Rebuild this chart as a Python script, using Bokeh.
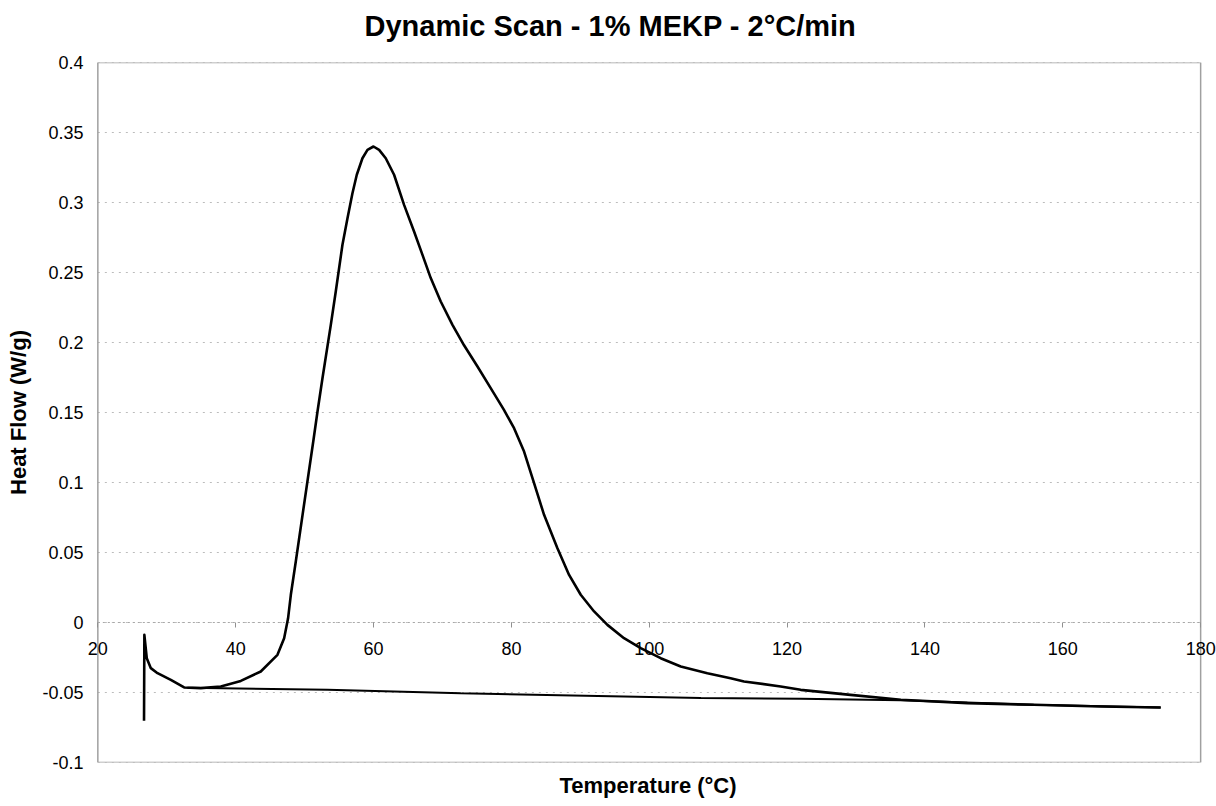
from bokeh.plotting import figure
from bokeh.models import Title, NumeralTickFormatter, FixedTicker, Label, Range1d
from bokeh.embed import file_html
from bokeh.resources import INLINE

# Heat flow curve (DSC dynamic scan)
temperature = [26.70, 26.75, 27.10, 27.69, 28.66, 30.59, 32.52, 34.94, 37.84, 40.74,
               43.64, 46.06, 47.03, 47.60, 48.00, 48.72, 50.00, 51.29, 51.87, 52.59,
               53.80, 54.52, 55.49, 56.22, 56.94, 57.57, 58.39, 59.12, 59.99, 60.81,
               61.77, 62.98, 64.43, 65.88, 67.10, 68.30, 69.75, 71.45, 73.13, 75.08,
               77.00, 78.90, 80.39, 81.84, 83.29, 84.74, 86.68, 88.37, 90.06, 92.00,
               93.93, 96.34, 98.76, 101.66, 104.57, 108.43, 111.80, 113.75, 119.07, 121.97,
               129.20, 136.50, 146.15, 155.80, 165.50, 174.20]
heat_flow = [-0.0702, -0.0088, -0.0255, -0.0326, -0.0362, -0.0410, -0.0464, -0.0469, -0.0457, -0.0417,
             -0.0350, -0.0231, -0.0112, 0.0030, 0.0198, 0.0436, 0.0870, 0.1305, 0.1507, 0.1745,
             0.2126, 0.2364, 0.2698, 0.2888, 0.3066, 0.3198, 0.3316, 0.3376, 0.3400, 0.3376,
             0.3316, 0.3198, 0.2983, 0.2793, 0.2626, 0.2460, 0.2293, 0.2126, 0.1980, 0.1829,
             0.1674, 0.1520, 0.1388, 0.1221, 0.0995, 0.0769, 0.0530, 0.0340, 0.0198, 0.0079,
             -0.0017, -0.0112, -0.0183, -0.0255, -0.0314, -0.0362, -0.0398, -0.0421, -0.0457, -0.0481,
             -0.0517, -0.0552, -0.0576, -0.0588, -0.0600, -0.0607]

# Integration baseline
base_temperature = [33.0, 53.3, 72.65, 107.5, 122.0, 136.5, 155.8, 174.2]
base_heat_flow = [-0.0466, -0.0480, -0.0505, -0.0540, -0.0545, -0.0556, -0.0588, -0.0607]

x_ticks = [20, 40, 60, 80, 100, 120, 140, 160, 180]
y_ticks = [-0.1, -0.05, 0, 0.05, 0.1, 0.15, 0.2, 0.25, 0.3, 0.35, 0.4]

FONT = "Liberation Sans"
GRID = "#bcbcbc"
BORDER = "#a0a0a0"

# the frame is a little wider than the 20..180 plot area so that the end tick
# labels (drawn at y = 0 inside the frame) are not clipped
x_lo, x_hi = x_ticks[0], x_ticks[-1]
p = figure(width=1216, height=806,
           x_range=Range1d(x_lo - 1.5, x_hi + 2.3), y_range=Range1d(y_ticks[0], y_ticks[-1]),
           output_backend="svg", toolbar_location=None,
           min_border_left=87, min_border_right=0, min_border_top=62, min_border_bottom=44)
p.title = None

# spacer between the chart title and the plot area, then the chart title
# (centred on the whole chart, as in the original)
p.add_layout(Title(text=" ", text_font_size="1px", standoff=18), "above")
p.add_layout(Title(text="Dynamic Scan - 1% MEKP - 2°C/min", align="left", offset=277,
                   text_font=FONT, text_font_size="29px", text_font_style="bold",
                   text_color="black", standoff=0), "above")

p.add_layout(Title(text="Temperature (°C)", align="left", offset=472, text_font=FONT,
                   text_font_size="22px", text_font_style="bold", text_color="black",
                   standoff=17), "below")

p.background_fill_color = "white"
p.border_fill_color = "white"
p.outline_line_color = None
p.xgrid.grid_line_color = None
p.ygrid.grid_line_color = None

# horizontal gridlines across the plot area
p.segment(x0=[x_lo] * len(y_ticks), x1=[x_hi] * len(y_ticks), y0=y_ticks, y1=y_ticks,
          line_color=GRID, line_dash="2 5", line_width=1)

# plot-area border
p.quad(left=[x_lo], right=[x_hi], bottom=[y_ticks[0]], top=[y_ticks[-1]],
       fill_color=None, line_color=BORDER, line_width=1.5)

# x axis line crossing at y = 0
p.segment(x0=[x_lo], x1=[x_hi], y0=[0], y1=[0], line_color="#a8a8a8", line_dash="2 3",
          line_width=1)

xa = p.xaxis[0]
xa.fixed_location = 0
xa.ticker = FixedTicker(ticks=x_ticks)
xa.axis_line_color = None
xa.major_tick_line_color = "#909090"
xa.major_tick_out = 5
xa.major_tick_in = 0
xa.minor_tick_line_color = None
xa.major_label_text_color = None

# x tick labels below the y = 0 axis line
for t in x_ticks:
    p.add_layout(Label(x=t, y=0, text=str(t), text_align="center", text_baseline="middle",
                       y_offset=-26, text_font=FONT, text_font_size="18px",
                       text_color="black"))

ya = p.yaxis[0]
ya.ticker = FixedTicker(ticks=y_ticks)
ya.formatter = NumeralTickFormatter(format="0.[00]")
ya.axis_line_color = None
ya.major_tick_line_color = None
ya.minor_tick_line_color = None
ya.major_tick_out = 0
ya.major_label_standoff = 4
ya.major_label_text_font = FONT
ya.major_label_text_font_size = "18px"
ya.major_label_text_color = "black"
ya.axis_label = "Heat Flow (W/g)"
ya.axis_label_text_font = FONT
ya.axis_label_text_font_size = "22px"
ya.axis_label_text_font_style = "bold"
ya.axis_label_text_color = "black"
ya.axis_label_standoff = 8

p.line(base_temperature, base_heat_flow, line_color="black", line_width=2)
p.line(temperature, heat_flow, line_color="black", line_width=2.6, line_join="round")

open("out.html", "w").write(file_html(p, INLINE))
